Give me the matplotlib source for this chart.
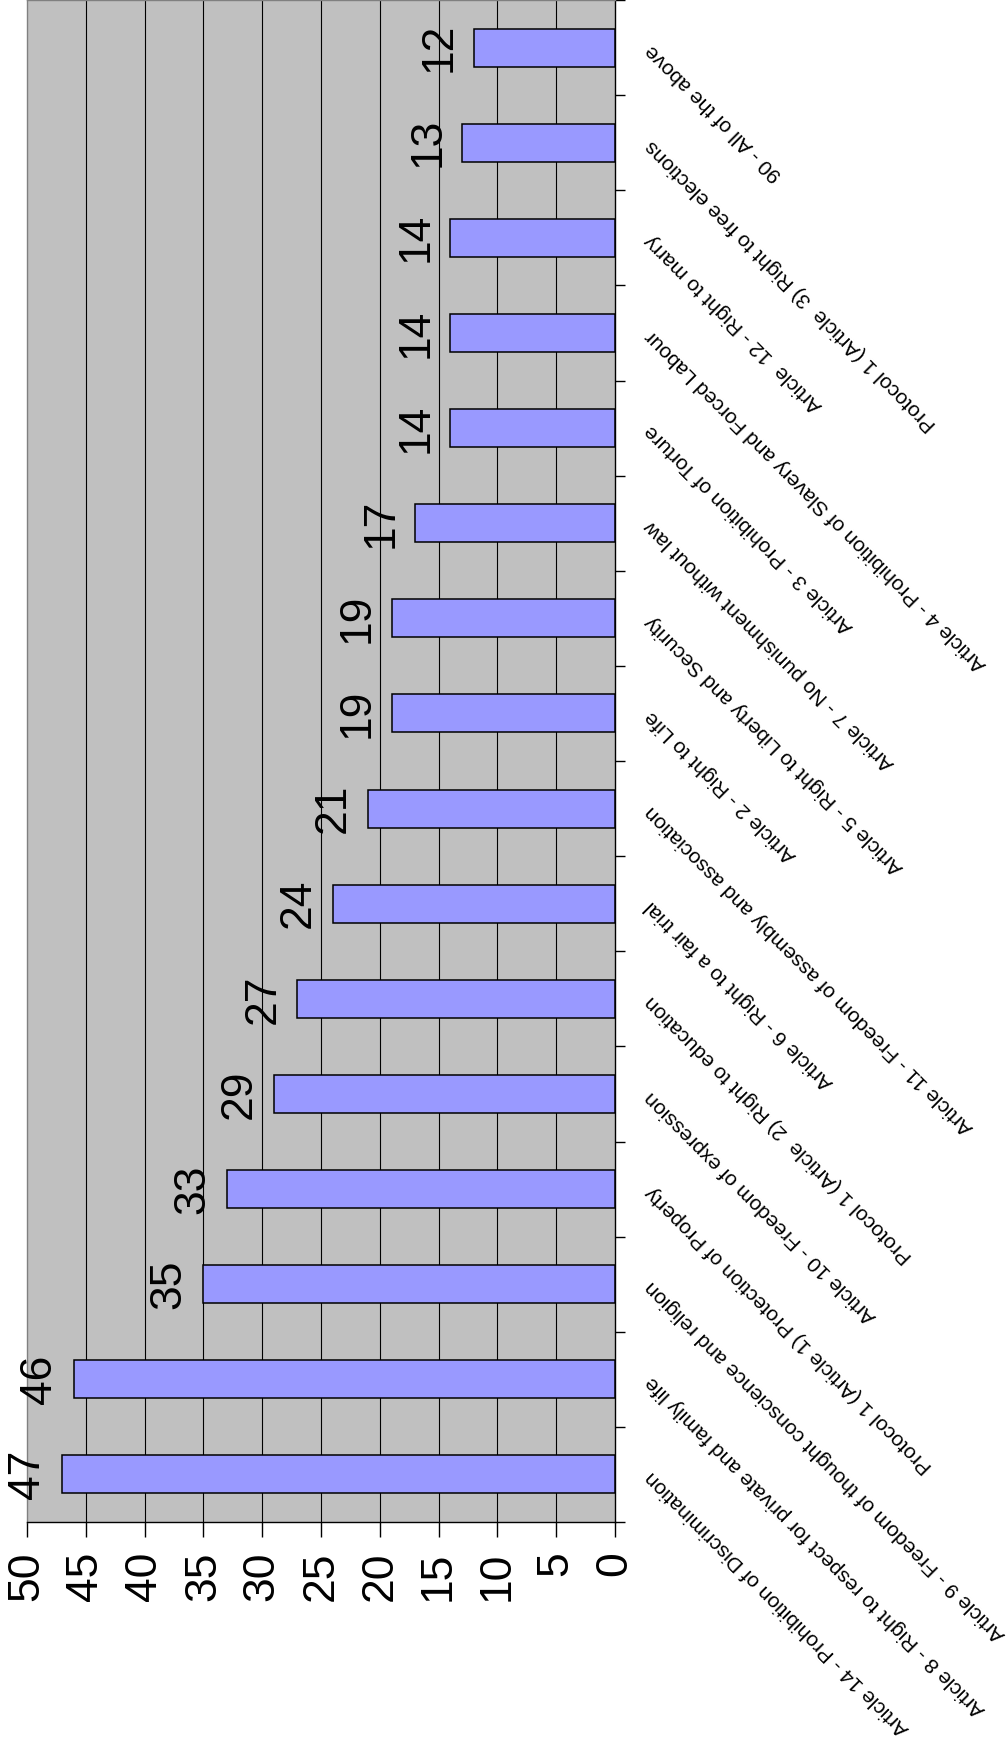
import numpy as np
import matplotlib.pyplot as plt

plt.rcParams['font.family'] = ['Liberation Sans', 'DejaVu Sans']

# categories listed top to bottom
articles = [
    '90 - All of the above',
    'Protocol 1 (Article  3) Right to free elections',
    'Article  12 - Right to marry',
    'Article 4 - Prohibition of Slavery and Forced Labour',
    'Article 3 - Prohibition of Torture',
    'Article 7 - No punishment without law',
    'Article 5 - Right to Liberty and Security',
    'Article 2 - Right to Life',
    'Article 11 - Freedom of assembly and association',
    'Article 6 - Right to a fair trial',
    'Protocol 1 (Article  2) Right to education',
    'Article 10 - Freedom of expression',
    'Protocol 1 (Article 1) Protection of Property',
    'Article 9 - Freedom of thought conscience and religion',
    'Article 8 - Right to respect for private and family life',
    'Article 14 - Prohibition of Discrimination',
]
counts = [12, 13, 14, 14, 14, 17, 19, 19, 21, 24, 27, 29, 33, 35, 46, 47]
value_ticks = list(range(0, 55, 5))

W, H = 1006, 1755
fig = plt.figure(figsize=(W / 100, H / 100), dpi=100)
ax = fig.add_axes([27 / W, 1 - 1522 / H, 588 / W, 1522 / H])
ax.set_facecolor('#C0C0C0')

pos = np.arange(len(counts))
ax.barh(pos, counts, height=0.4, color='#9999FF', edgecolor='black', linewidth=1.1, zorder=3)

# value labels sit past the end of each bar, turned like the axis numbers
for p, v in zip(pos, counts):
    ax.annotate(str(v), (v, p), xytext=(-10, 0), textcoords='offset points',
                rotation=90, ha='right', va='center', fontsize=32)

ax.set_xlim(50, 0)
ax.set_ylim(len(counts) - 0.5, -0.5)

ax.set_xticks(value_ticks)
ax.set_xticklabels([str(t) for t in value_ticks], rotation=90, fontsize=32)
ax.tick_params(axis='x', direction='out', length=11, width=1, pad=10)
for t in value_ticks[1:-1]:
    ax.axvline(t, color='black', linewidth=0.8, zorder=1)

ax.yaxis.tick_right()
ax.set_yticks(pos)
ax.set_yticklabels(articles, rotation=135, rotation_mode='anchor', ha='right', va='center', fontsize=15)
ax.tick_params(axis='y', which='major', length=0, pad=24)
ax.set_yticks(np.arange(-0.5, len(counts)), minor=True)
ax.tick_params(axis='y', which='minor', direction='out', length=7, width=1, right=True, left=False)

ax.spines['left'].set_color('#808080')
ax.spines['top'].set_color('#808080')
ax.spines['right'].set_color('black')
ax.spines['bottom'].set_color('black')
for s in ax.spines.values():
    s.set_linewidth(1)

fig.savefig('out.png', dpi=100)
